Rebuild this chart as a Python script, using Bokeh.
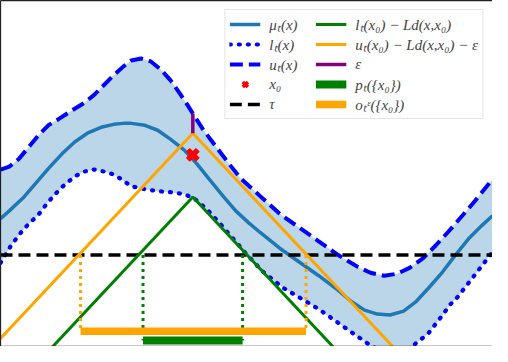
import numpy as np
from bokeh.plotting import figure
from bokeh.models import Range1d, LinearAxis, FixedTicker, Legend, LegendItem
from bokeh.embed import file_html
from bokeh.resources import INLINE

# ---- data ----
u_x = [0.00, 0.09, 0.19, 0.29, 0.39, 0.49, 0.59, 0.73, 0.86, 0.96, 1.06, 1.16, 1.26, 1.34, 1.44,
       1.54, 1.64, 1.74, 1.84, 1.92, 1.97, 2.08, 2.21, 2.34, 2.46, 2.56, 2.66, 2.86, 3.06, 3.26,
       3.46, 3.66, 3.79, 3.93, 4.06, 4.19, 4.33, 4.46, 4.59, 4.73, 4.86, 4.99, 5.04]
u_y = [1.80, 1.83, 1.91, 2.03, 2.15, 2.25, 2.31, 2.40, 2.48, 2.56, 2.66, 2.76, 2.85, 2.91, 2.93,
       2.90, 2.82, 2.71, 2.57, 2.45, 2.37, 2.20, 2.03, 1.86, 1.71, 1.62, 1.53, 1.35, 1.21, 1.07,
       0.93, 0.81, 0.75, 0.72, 0.74, 0.80, 0.90, 1.03, 1.17, 1.33, 1.48, 1.64, 1.70]

mu_x = [0.00, 0.09, 0.23, 0.36, 0.49, 0.63, 0.76, 0.89, 1.03, 1.16, 1.26, 1.34, 1.48, 1.61, 1.74,
        1.88, 2.01, 2.14, 2.28, 2.41, 2.54, 2.66, 2.86, 3.06, 3.26, 3.46, 3.59, 3.73, 3.86, 3.99,
        4.13, 4.26, 4.39, 4.53, 4.66, 4.79, 4.93, 5.04]
mu_y = [1.30, 1.38, 1.51, 1.66, 1.81, 1.96, 2.08, 2.17, 2.23, 2.26, 2.27, 2.27, 2.25, 2.20, 2.11,
        2.00, 1.86, 1.70, 1.53, 1.38, 1.26, 1.16, 1.00, 0.86, 0.72, 0.57, 0.46, 0.37, 0.33, 0.32,
        0.36, 0.46, 0.60, 0.76, 0.93, 1.09, 1.23, 1.33]

l_x = [0.00, 0.11, 0.21, 0.29, 0.38, 0.48, 0.56, 0.64, 0.76, 0.86, 0.96, 1.06, 1.16, 1.24, 1.34,
       1.48, 1.61, 1.74, 1.88, 1.98, 2.11, 2.24, 2.38, 2.51, 2.69, 2.89, 3.06, 3.26, 3.46, 3.66,
       3.79, 3.99, 4.19, 4.29, 4.38, 4.49, 4.61, 4.68, 4.86, 5.04]
l_y = [0.85, 1.03, 1.16, 1.25, 1.33, 1.46, 1.55, 1.63, 1.73, 1.78, 1.80, 1.78, 1.75, 1.70, 1.63,
       1.60, 1.58, 1.57, 1.55, 1.51, 1.40, 1.26, 1.10, 0.95, 0.76, 0.60, 0.50, 0.38, 0.24, 0.10,
       0.01, -0.09, -0.02, 0.06, 0.13, 0.27, 0.43, 0.50, 0.73, 0.96]

x0 = 1.97
x0_mark_y = 1.95
l_at_x0 = 1.52
u_at_x0 = 2.37
eps = 0.20
L = 1.06
tau = 0.93
pess_interval = [1.46, 2.48]
opt_interval = [0.82, 3.13]
pess_bar_y = 0.06
opt_bar_y = 0.155

x_lim = [0.0, 5.04]
y_lim = [0.0, 3.52]

# ---- figure ----
p = figure(width=492, height=346, x_range=Range1d(*x_lim), y_range=Range1d(*y_lim),
           output_backend="svg", toolbar_location=None,
           x_axis_location=None, y_axis_location=None, min_border=0)
p.grid.visible = False
p.outline_line_color = None
p.background_fill_color = "white"
p.border_fill_color = "white"

for loc in ["left", "below", "above"]:
    ax = LinearAxis(ticker=FixedTicker(ticks=[]), axis_line_color="#222222", axis_line_width=1.3,
                    major_tick_line_color=None, minor_tick_line_color=None,
                    major_label_text_font_size="0px", major_label_standoff=0,
                    major_tick_out=0, minor_tick_out=0, major_tick_in=0, minor_tick_in=0)
    p.add_layout(ax, loc)

# band
band_x = list(u_x) + list(reversed(l_x))
band_y = list(u_y) + list(reversed(l_y))
p.patch(band_x, band_y, fill_color="#1f77b4", fill_alpha=0.3, line_color=None)

r_mu = p.line(mu_x, mu_y, line_color="#1f77b4", line_width=3.5)
r_l = p.line(l_x, l_y, line_color="blue", line_width=4.2, line_dash="1 8", line_cap="round")
r_u = p.line(u_x, u_y, line_color="blue", line_width=4, line_dash="13 6")

r_tau = p.line(x_lim, [tau, tau], line_color="black", line_width=3.5, line_dash="12 6")

# Lipschitz cones
cone_x = [x_lim[0], x0, x_lim[1]]
green_y = [l_at_x0 - L * abs(xx - x0) for xx in cone_x]
orange_y = [u_at_x0 - eps - L * abs(xx - x0) for xx in cone_x]
r_green = p.line(cone_x, green_y, line_color="green", line_width=3)
r_orange = p.line(cone_x, orange_y, line_color="orange", line_width=3)
r_eps = p.line([x0, x0], [u_at_x0 - eps, u_at_x0], line_color="purple", line_width=3.5)

p.scatter([x0], [x0_mark_y], marker="x", size=14, line_width=5.5, line_color="red")
# same point again, thinner strokes, so that the legend key reads as an "x"
r_x0_key = p.scatter([x0], [x0_mark_y], marker="x", size=14, line_width=3.5, line_color="red")

# vertical dotted guides
p.segment(x0=opt_interval, x1=opt_interval, y0=[tau, tau], y1=[opt_bar_y, opt_bar_y],
          line_color="orange", line_width=3, line_dash="3 4")
p.segment(x0=pess_interval, x1=pess_interval, y0=[tau, tau], y1=[pess_bar_y, pess_bar_y],
          line_color="green", line_width=3, line_dash="3 4")

r_opt = p.line(opt_interval, [opt_bar_y, opt_bar_y], line_color="orange", line_width=7.5)
r_pess = p.line(pess_interval, [pess_bar_y, pess_bar_y], line_color="green", line_width=8)

items = [
    LegendItem(label="μₜ(x)", renderers=[r_mu]),
    LegendItem(label="lₜ(x)", renderers=[r_l]),
    LegendItem(label="uₜ(x)", renderers=[r_u]),
    LegendItem(label="x₀", renderers=[r_x0_key]),
    LegendItem(label="τ", renderers=[r_tau]),
    LegendItem(label="lₜ(x₀) − Ld(x,x₀)", renderers=[r_green]),
    LegendItem(label="uₜ(x₀) − Ld(x,x₀) − ε", renderers=[r_orange]),
    LegendItem(label="ε", renderers=[r_eps]),
    LegendItem(label="pₜ({x₀})", renderers=[r_pess]),
    LegendItem(label="oₜᵋ({x₀})", renderers=[r_opt]),
]
legend = Legend(items=items, ncols=2, location="top_right", margin=9, padding=4,
                spacing=0, glyph_width=31, glyph_height=18, label_height=18,
                label_width=46, label_standoff=9, label_text_font="Liberation Serif",
                label_text_font_style="italic", label_text_font_size="15px",
                border_line_color="#cccccc", border_line_width=1,
                background_fill_alpha=0.8)
p.add_layout(legend)

open("out.html", "w").write(file_html(p, INLINE))
